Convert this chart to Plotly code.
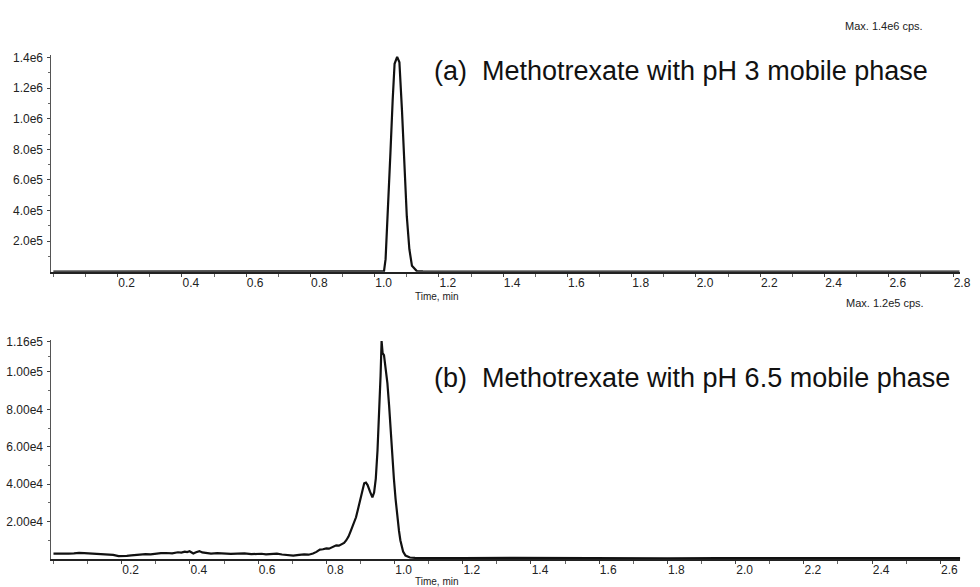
import plotly.graph_objects as go

# ---------------- data ----------------
top_time = [0.0, 0.2, 0.4, 0.6, 0.8, 0.95, 1.0, 1.02, 1.029, 1.034, 1.042, 1.049, 1.056,
            1.062, 1.070, 1.077, 1.085, 1.092, 1.100, 1.108, 1.116, 1.131, 1.15, 1.2,
            1.5, 2.0, 2.5, 2.82]
top_int = [1500, 1500, 1500, 1500, 1500, 1500, 1500, 1500, 2000, 82000, 407000, 774000,
           1120000, 1360000, 1405000, 1370000, 1055000, 710000, 363000, 147000, 39000,
           4000, 1800, 1500, 1500, 1500, 1500, 1500]

bot_time = [0.0, 0.015, 0.03, 0.045, 0.06, 0.075, 0.09, 0.10, 0.115, 0.133, 0.15, 0.16,
            0.175, 0.191, 0.203, 0.215, 0.228, 0.24, 0.255, 0.27, 0.285, 0.298, 0.315,
            0.33, 0.348, 0.365, 0.375, 0.385, 0.392, 0.399, 0.405, 0.41, 0.418, 0.428,
            0.436, 0.445, 0.453, 0.462, 0.48, 0.50, 0.52, 0.539, 0.56, 0.58, 0.595,
            0.61, 0.623, 0.636, 0.655, 0.67, 0.688, 0.703, 0.72, 0.735, 0.748, 0.761,
            0.771, 0.781, 0.79, 0.80, 0.808, 0.815, 0.822, 0.829, 0.837, 0.845, 0.852,
            0.858, 0.865, 0.872, 0.880, 0.887, 0.894, 0.901, 0.906, 0.911, 0.916, 0.921,
            0.928, 0.935, 0.940, 0.945, 0.950, 0.955, 0.959, 0.962, 0.965, 0.969, 0.974,
            0.979, 0.984, 0.988, 0.993, 0.998, 1.003, 1.008, 1.013, 1.017, 1.021, 1.025,
            1.032, 1.045, 1.06, 1.1, 1.2, 1.35, 1.5, 1.65, 1.8, 1.95, 2.1, 2.25, 2.4,
            2.55, 2.66]
bot_int = [2900, 2800, 2700, 2900, 3000, 3300, 3100, 3000, 3200, 2900, 2600, 2400,
           2200, 1500, 1800, 1700, 1900, 2100, 2400, 2600, 2500, 2900, 3100,
           3200, 3000, 3600, 3400, 3900, 3700, 4100, 3300, 2900, 3600, 4200,
           3500, 3200, 3000, 2900, 3100, 2800, 2700, 2900, 3000, 2600, 2800,
           2800, 2500, 2700, 2900, 2400, 2100, 1800, 2200, 2500, 2300, 2900,
           3800, 5000, 5200, 5700, 5500, 6200, 6500, 7300, 7100, 8000, 8600,
           9900, 12000, 15200, 18500, 22300, 27500, 32900, 37500, 40500, 40800, 39500,
           36000, 32900, 35500, 43000, 58000, 77000, 98000, 116500, 110000, 109000, 102000,
           94000, 82000, 69000, 56000, 43000, 32000, 21500, 15000, 10000, 6500, 4000,
           1800, 800, 600, 500, 500, 600, 450, 550, 400, 500, 500, 450, 500,
           550, 500]

top_yticks = [200000, 400000, 600000, 800000, 1000000, 1200000, 1400000]
top_ytext = ["2.0e5", "4.0e5", "6.0e5", "8.0e5", "1.0e6", "1.2e6", "1.4e6"]
bot_yticks = [20000, 40000, 60000, 80000, 100000, 116000]
bot_ytext = ["2.00e4", "4.00e4", "6.00e4", "8.00e4", "1.00e5", "1.16e5"]
top_xticks = [0.2, 0.4, 0.6, 0.8, 1.0, 1.2, 1.4, 1.6, 1.8, 2.0, 2.2, 2.4, 2.6, 2.8]
bot_xticks = [0.2, 0.4, 0.6, 0.8, 1.0, 1.2, 1.4, 1.6, 1.8, 2.0, 2.2, 2.4, 2.6]

top_title = "(a)  Methotrexate with pH 3 mobile phase"
bot_title = "(b)  Methotrexate with pH 6.5 mobile phase"
top_max = "Max. 1.4e6 cps."
bot_max = "Max. 1.2e5 cps."
x_label = "Time, min"
top_marker_level = 71000
bot_marker_level = 21600

# ---------------- figure ----------------
W, H = 980, 587
FONT = "Liberation Sans, Arial, sans-serif"
INK = "#111111"

def px(x):
    return x / W

def py(y):
    return 1 - y / H

fig = go.Figure()
fig.add_trace(go.Scatter(x=top_time, y=top_int, mode="lines",
                         line=dict(color=INK, width=2.2), xaxis="x", yaxis="y",
                         showlegend=False, hoverinfo="skip"))
fig.add_trace(go.Scatter(x=bot_time, y=bot_int, mode="lines",
                         line=dict(color=INK, width=2.2), xaxis="x2", yaxis="y2",
                         showlegend=False, hoverinfo="skip"))
# threshold arrow markers on the y axes
fig.add_trace(go.Scatter(x=[-0.014], y=[top_marker_level], mode="markers",
                         marker=dict(symbol="triangle-right", size=7, color=INK),
                         xaxis="x", yaxis="y", cliponaxis=False, showlegend=False,
                         hoverinfo="skip"))
fig.add_trace(go.Scatter(x=[-0.014], y=[bot_marker_level], mode="markers",
                         marker=dict(symbol="triangle-right", size=7, color=INK),
                         xaxis="x2", yaxis="y2", cliponaxis=False, showlegend=False,
                         hoverinfo="skip"))

xdom = [px(52), px(971)]
common_x = dict(showgrid=False, zeroline=False, showline=True, linecolor="#222",
                linewidth=1.6, ticks="outside", ticklen=3, tickcolor="#444",
                tickfont=dict(family=FONT, size=12, color="#222"),
                ticklabelshift=9, ticklabelstandoff=-4, ticklabeloverflow="allow",
                minor=dict(dtick=0.1, ticks="outside", ticklen=3, tickcolor="#666"))
common_y = dict(showgrid=False, zeroline=False, showline=True, linecolor="#555",
                linewidth=1, ticks="outside", ticklen=3, tickcolor="#444",
                tickfont=dict(family=FONT, size=12, color="#222"),
                ticklabelstandoff=2)

fig.update_layout(
    width=W, height=H, margin=dict(l=0, r=0, t=0, b=0),
    paper_bgcolor="white", plot_bgcolor="white",
    xaxis=dict(domain=xdom, range=[-0.006, 2.822], anchor="y",
               tickmode="array", tickvals=top_xticks,
               ticktext=[f"{v:.1f}" for v in top_xticks], **common_x),
    yaxis=dict(domain=[py(269), py(50)], range=[0, 1420000], anchor="x",
               tickmode="array", tickvals=top_yticks, ticktext=top_ytext,
               minor=dict(tickvals=[100000, 300000, 500000, 700000, 900000, 1100000,
                                    1300000], ticks="outside", ticklen=2,
                          tickcolor="#666"),
               **common_y),
    xaxis2=dict(domain=xdom, range=[-0.006, 2.658], anchor="y2",
                tickmode="array", tickvals=bot_xticks,
                ticktext=[f"{v:.1f}" for v in bot_xticks], **common_x),
    yaxis2=dict(domain=[py(558.75), py(338)], range=[0, 117000], anchor="x2",
                tickmode="array", tickvals=bot_yticks, ticktext=bot_ytext,
                minor=dict(tickvals=[10000, 30000, 50000, 70000, 90000, 108000],
                           ticks="outside", ticklen=2, tickcolor="#666"),
                **common_y),
)

ann = []
ann.append(dict(text=top_title, x=px(437), y=py(67), xanchor="left", yanchor="middle",
                font=dict(family=FONT, size=27, color=INK)))
ann.append(dict(text=bot_title, x=px(437), y=py(376), xanchor="left", yanchor="middle",
                font=dict(family=FONT, size=27, color=INK)))
ann.append(dict(text=top_max, x=px(936), y=py(21), xanchor="right", yanchor="middle",
                font=dict(family=FONT, size=11, color="#222")))
ann.append(dict(text=bot_max, x=px(937), y=py(301), xanchor="right", yanchor="middle",
                font=dict(family=FONT, size=11, color="#222")))
ann.append(dict(text=x_label, x=px(442), y=py(294), xanchor="center", yanchor="middle",
                font=dict(family=FONT, size=10, color="#222")))
ann.append(dict(text=x_label, x=px(442), y=py(581), xanchor="center", yanchor="middle",
                font=dict(family=FONT, size=10, color="#222")))
for a in ann:
    a.update(xref="paper", yref="paper", showarrow=False)
fig.update_layout(annotations=ann)

fig.write_html("out.html")
